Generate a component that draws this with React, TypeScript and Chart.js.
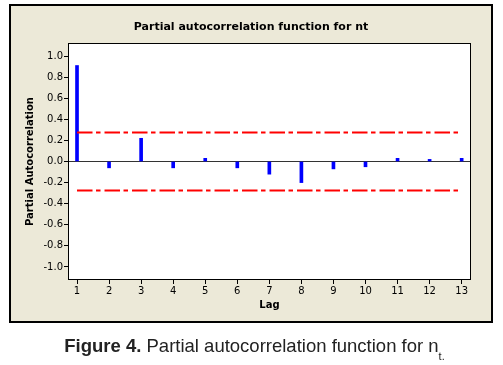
import React, { useEffect, useRef } from "react";
import { Chart, registerables } from "chart.js";

Chart.register(...registerables);

const lags = [1, 2, 3, 4, 5, 6, 7, 8, 9, 10, 11, 12, 13];
const pacf = [0.91, -0.06, 0.22, -0.06, 0.03, -0.06, -0.12, -0.2, -0.07, -0.05, 0.03, 0.02, 0.03];
const upperLimit = 0.275;
const lowerLimit = -0.275;
const yTickValues = [-1.0, -0.8, -0.6, -0.4, -0.2, 0.0, 0.2, 0.4, 0.6, 0.8, 1.0];
const titleText = "Partial autocorrelation function for nt";
const xTitle = "Lag";
const yTitle = "Partial Autocorrelation";

const panelPlugin = {
  id: "panelPlugin",
  beforeDraw(chart: any) {
    const { ctx, chartArea } = chart;
    ctx.save();
    ctx.fillStyle = "#000";
    ctx.fillRect(9, 4, 484, 319);
    ctx.fillStyle = "#ECE9D8";
    ctx.fillRect(11, 6, 480, 315);
    ctx.fillStyle = "#fff";
    ctx.fillRect(chartArea.left, chartArea.top, chartArea.right - chartArea.left, chartArea.bottom - chartArea.top);
    ctx.fillStyle = "#000";
    ctx.font = "bold 11px 'DejaVu Sans'";
    ctx.textAlign = "center";
    ctx.textBaseline = "middle";
    ctx.fillText(titleText, 251, 27.5);
    ctx.restore();
  },
  afterDraw(chart: any) {
    const { ctx, chartArea } = chart;
    ctx.save();
    ctx.strokeStyle = "#000";
    ctx.lineWidth = 1;
    ctx.strokeRect(chartArea.left - 0.5, chartArea.top - 0.5, chartArea.right - chartArea.left + 1, chartArea.bottom - chartArea.top + 1);
    ctx.restore();
  },
};

export default function App() {
  const ref = useRef<HTMLCanvasElement>(null);
  useEffect(() => {
    if (!ref.current) return;
    const limitDash = [15.5, 3.5, 4.5, 4];
    const chart = new Chart(ref.current, {
      type: "bar",
      data: {
        datasets: [
          {
            type: "bar",
            data: lags.map((l, i) => ({ x: l, y: pacf[i] })),
            backgroundColor: "#0000FF",
            borderWidth: 0,
            barThickness: 3,
            order: 1,
          } as any,
          {
            type: "line",
            data: [
              { x: lags[0], y: upperLimit },
              { x: lags[lags.length - 1], y: upperLimit },
            ],
            borderColor: "#FF0000",
            borderWidth: 2,
            borderDash: limitDash,
            pointRadius: 0,
            order: 0,
          },
          {
            type: "line",
            data: [
              { x: lags[0], y: lowerLimit },
              { x: lags[lags.length - 1], y: lowerLimit },
            ],
            borderColor: "#FF0000",
            borderWidth: 2,
            borderDash: limitDash,
            pointRadius: 0,
            order: 0,
          },
        ],
      },
      options: {
        animation: false,
        responsive: false,
        events: [],
        layout: { padding: { left: 10, right: 33, top: 44, bottom: 46 } },
        plugins: {
          legend: { display: false },
          tooltip: { enabled: false },
          title: { display: false },
        },
        scales: {
          x: {
            type: "linear",
            min: 0.75,
            max: 13.26,
            offset: false,
            afterBuildTicks: (s: any) => {
              s.ticks = lags.map((v) => ({ value: v }));
            },
            afterFit: (s: any) => {
              s.height = 40;
            },
            ticks: {
              color: "#000",
              font: { family: "DejaVu Sans", size: 10 },
              padding: 1,
              maxRotation: 0,
              autoSkip: false,
              callback: (v: any) => String(v),
            },
            grid: {
              offset: false,
              drawOnChartArea: false,
              tickLength: 5,
              tickColor: "#000",
              color: "#000",
            },
            border: { display: false },
            title: {
              display: true,
              text: xTitle,
              color: "#000",
              font: { family: "DejaVu Sans", size: 10, weight: "bold", lineHeight: 1.2 },
              padding: { top: 0, bottom: 8 },
            },
          },
          y: {
            type: "linear",
            min: -1.114,
            max: 1.114,
            afterBuildTicks: (s: any) => {
              s.ticks = yTickValues.map((v) => ({ value: v }));
            },
            afterFit: (s: any) => {
              s.width = 59;
            },
            ticks: {
              color: "#000",
              font: { family: "DejaVu Sans", size: 10 },
              padding: 1,
              autoSkip: false,
              callback: (v: any) => Number(v).toFixed(1),
            },
            grid: {
              drawOnChartArea: true,
              tickLength: 5,
              tickColor: "#000",
              color: (c: any) => (c.tick && Math.abs(c.tick.value) < 1e-9 ? "#333" : "rgba(0,0,0,0)"),
            },
            border: { display: false },
            title: {
              display: true,
              text: yTitle,
              color: "#000",
              font: { family: "DejaVu Sans", size: 10, weight: "bold", lineHeight: 1.2 },
              padding: { top: 14, bottom: 0 },
            },
          },
        },
      },
      plugins: [panelPlugin],
    } as any);
    return () => chart.destroy();
  }, []);

  return (
    <div style={{ position: "absolute", left: 0, top: 0, width: 503, height: 365, background: "#fff" }}>
      <canvas ref={ref} width={503} height={365} style={{ position: "absolute", left: 0, top: 0, width: 503, height: 365 }} />
      <div
        style={{
          position: "absolute",
          left: 0,
          top: 334,
          width: 503,
          paddingLeft: 6,
          boxSizing: "border-box",
          textAlign: "center",
          fontFamily: "'Liberation Sans', Arial, sans-serif",
          fontSize: 18.5,
          lineHeight: "24px",
          color: "#222",
          whiteSpace: "nowrap",
        }}
      >
        <b>Figure 4.</b> Partial autocorrelation function for n
        <sub style={{ fontSize: 11, verticalAlign: "-8px", lineHeight: 0 }}>t.</sub>
      </div>
    </div>
  );
}
